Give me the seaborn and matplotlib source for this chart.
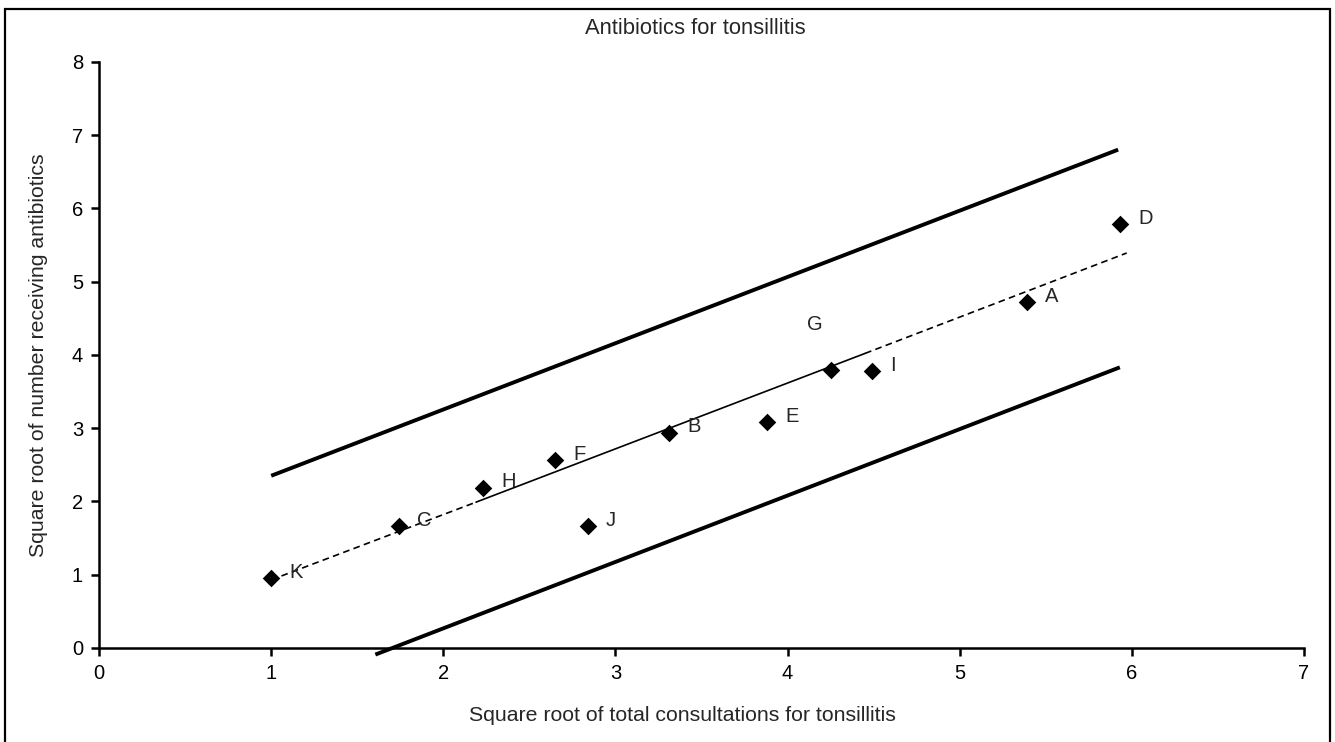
import matplotlib
matplotlib.use("Agg")
import matplotlib.pyplot as plt
import seaborn as sns
import pandas as pd
from matplotlib.patches import Rectangle

# Practices: sqrt(consultations) vs sqrt(antibiotic prescriptions)
practices = ["K", "C", "H", "F", "J", "B", "E", "G", "I", "A", "D"]
sqrt_consult = [1.00, 1.74, 2.23, 2.65, 2.84, 3.31, 3.88, 4.25, 4.49, 5.39, 5.93]
sqrt_antib = [0.95, 1.67, 2.19, 2.57, 1.66, 2.94, 3.08, 3.79, 3.78, 4.72, 5.78]

# Fitted line (dashed outside, solid thin in the middle)
fit_dash1_x = [1.00, 2.19]
fit_dash1_y = [0.93, 1.99]
fit_solid_x = [2.19, 4.45]
fit_solid_y = [1.99, 4.02]
fit_dash2_x = [4.45, 5.97]
fit_dash2_y = [4.02, 5.39]

# Control limits
upper_x = [1.00, 5.92]
upper_y = [2.35, 6.80]
lower_x = [1.605, 5.93]
lower_y = [-0.09, 3.83]

df = pd.DataFrame({"practice": practices, "x": sqrt_consult, "y": sqrt_antib})

sns.set_style("ticks")
plt.rcParams["font.family"] = ["Liberation Sans", "DejaVu Sans"]

fig = plt.figure(figsize=(13.35, 7.42), dpi=100)
ax = fig.add_axes([0.0742, 0.1267, 0.9026, 0.7901])

ax.plot(upper_x, upper_y, color="black", lw=2.8, solid_capstyle="butt", clip_on=False)
ax.plot(lower_x, lower_y, color="black", lw=2.8, solid_capstyle="butt", clip_on=False)
ax.plot(fit_dash1_x, fit_dash1_y, color="black", lw=1.2, ls=(0, (4, 2.6)))
ax.plot(fit_solid_x, fit_solid_y, color="black", lw=1.2)
ax.plot(fit_dash2_x, fit_dash2_y, color="black", lw=1.2, ls=(0, (4, 2.6)))

sns.scatterplot(data=df, x="x", y="y", marker="D", s=80, color="black",
                edgecolor="black", linewidth=0, ax=ax, zorder=3, clip_on=False)

for name, x, y in zip(practices, sqrt_consult, sqrt_antib):
    if name == "G":
        ax.annotate(name, (x, y), xytext=(-11.5, 33), textcoords="offset points",
                    fontsize=14.5, ha="center", va="center")
    else:
        ax.annotate(name, (x, y), xytext=(13, 4), textcoords="offset points",
                    fontsize=14.5, ha="left", va="center")

ax.set_xlim(0, 7)
ax.set_ylim(0, 8)
ax.set_xticks(range(0, 8))
ax.set_yticks(range(0, 9))
ax.tick_params(direction="out", length=5.5, width=1.8, labelsize=14.5, colors="black", pad=6)
for side in ["left", "bottom"]:
    ax.spines[side].set_linewidth(1.8)
    ax.spines[side].set_color("black")
sns.despine(ax=ax)

ax.set_xlabel("Square root of total consultations for tonsillitis", fontsize=15.3, va="center")
ax.xaxis.set_label_coords(0.484, -0.116)
ax.set_ylabel("Square root of number receiving antibiotics", fontsize=15.3, va="center")
ax.yaxis.set_label_coords(-0.0505, 0.5)
fig.text(0.521, 0.962, "Antibiotics for tonsillitis", ha="center", va="center", fontsize=15.8)

# outer frame around the whole chart
fig.patches.append(Rectangle((5 / 1335, -0.01), 1325 / 1335, 0.998, transform=fig.transFigure,
                             fill=False, edgecolor="black", lw=1.6))

fig.savefig("out.png", dpi=100)
